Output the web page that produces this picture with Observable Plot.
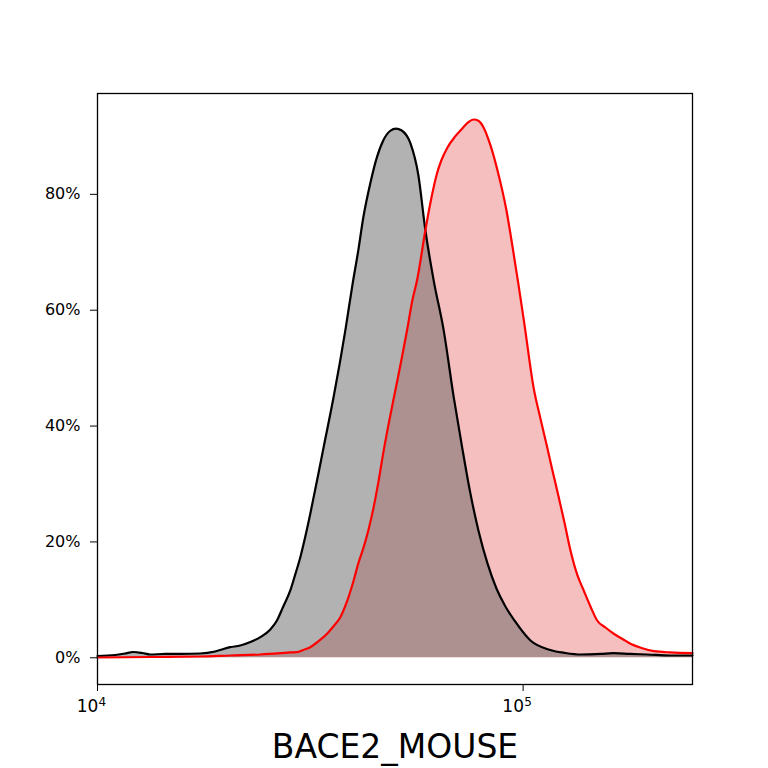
<!DOCTYPE html>
<html>
<head>
<meta charset="utf-8">
<script src="https://cdn.jsdelivr.net/npm/d3@7"></script>
<script src="https://cdn.jsdelivr.net/npm/@observablehq/plot@0.6"></script>
<style>
  body { margin: 0; background: #fff; }
  #chart svg { display: block; }
</style>
</head>
<body>
<div id="chart"></div>
<script>
// Control (black) histogram: fluorescence value and % of max
const controlX = [10000, 11000, 11600, 12130, 12740, 13300, 14430, 15650, 17440, 18900,
  20500, 21650, 22860, 24130, 25470, 26400, 27320, 28380, 29150, 29960,
  30780, 31620, 32200, 33080, 33990, 35870, 38220, 39700, 41000, 42130, 43750,
  45370, 46950, 48760, 50290, 51750, 54340, 56740, 58930, 61630, 65070,
  68690, 71880, 75180, 78520, 82460, 86560, 90870, 95410, 104040, 114700, 125700,
  136400, 151900, 163100, 178700, 195600, 221900, 250000];
const controlY = [0.31, 0.48, 0.74, 1.00, 0.83, 0.57, 0.66, 0.66, 0.74, 1.09,
  1.83, 2.12, 2.73, 3.56, 4.89, 6.44, 8.86, 11.62, 14.39, 17.37,
  20.95, 24.87, 27.74, 32.00, 36.37, 45.01, 56.53, 64.30, 70.35, 76.04, 81.92,
  86.46, 89.34, 90.98, 91.36, 91.07, 88.83, 83.30, 73.80, 65.16, 56.53,
  45.01, 36.37, 28.38, 21.99, 16.29, 11.97, 8.86, 6.44, 2.99, 1.43, 0.83,
  0.57, 0.66, 0.79, 0.66, 0.57, 0.40, 0.40];

// Stained (red) histogram
const stainX = [10000, 13300, 17440, 20500, 24130, 26890, 28380, 29430, 30450, 31620,
  33020, 34620, 35820, 37200, 38640, 39980, 41000, 42200, 43280, 44480,
  45690, 46950, 48490, 50100, 51750, 53370, 54930, 56340, 58930, 60530,
  62770, 64270, 66270, 69330, 72400, 74370, 76540, 78520, 80670, 83780,
  87030, 91360, 94380, 97500, 100710, 105900, 109800, 113860, 117200, 121200,
  125050, 129200, 134200, 138800, 143950, 149250, 156100, 163300, 171200, 178700,
  189700, 202800, 221900, 250000];
const stainY = [0.05, 0.14, 0.22, 0.40, 0.57, 0.79, 0.92, 0.97, 1.35, 1.83,
  2.82, 4.15, 5.41, 7.01, 9.90, 13.35, 16.29, 19.10, 21.99, 25.79,
  30.28, 35.46, 40.98, 46.17, 51.35, 56.53, 61.71, 65.16, 73.80, 78.46,
  83.65, 85.89, 87.97, 90.04, 91.60, 92.46, 92.92, 92.71, 91.60, 88.49,
  84.17, 77.25, 71.04, 64.47, 57.56, 46.51, 41.33, 36.37, 32.35, 27.74,
  23.37, 18.53, 14.21, 11.62, 8.86, 6.44, 5.23, 4.15, 3.25, 2.42,
  1.69, 1.14, 0.92, 0.79];

const xTicks = [10000, 100000];
const xTickBase = ["10", "10"];
const xTickExp = ["4", "5"];
const yTicks = [0, 20, 40, 60, 80];
const xLabel = "BACE2_MOUSE";

const control = controlX.map((x, i) => ({x, y: controlY[i]}));
const stain = stainX.map((x, i) => ({x, y: stainY[i]}));

const chart = Plot.plot({
  width: 768,
  height: 768,
  marginTop: 93,
  marginLeft: 97,
  marginRight: 76,
  marginBottom: 84,
  style: {fontFamily: "DejaVu Sans", fontSize: "16px", color: "black", background: "white"},
  x: {type: "log", domain: [10000, 250000]},
  y: {domain: [-4.61, 97.41]},
  marks: [
    Plot.areaY(stain, {x: "x", y: "y", fill: "rgb(246,191,191)", curve: "monotone-x"}),
    Plot.areaY(control, {x: "x", y: "y", fill: "rgb(94,94,94)", fillOpacity: 0.48, curve: "monotone-x"}),
    Plot.lineY(control, {x: "x", y: "y", stroke: "black", strokeWidth: 2.2, curve: "monotone-x"}),
    Plot.lineY(stain, {x: "x", y: "y", stroke: "red", strokeWidth: 2.2, curve: "monotone-x"}),
    Plot.axisX({ticks: xTicks, tickFormat: () => "", tickSize: 7, label: null}),
    Plot.text(xTicks, {x: d => d, text: (d, i) => xTickBase[i], frameAnchor: "bottom",
      dx: -10, dy: 27, fontSize: 17, fill: "black"}),
    Plot.text(xTicks, {x: d => d, text: (d, i) => xTickExp[i], frameAnchor: "bottom",
      dx: 1, dy: 21, fontSize: 12, fill: "black", textAnchor: "start"}),
    Plot.axisY({ticks: yTicks, tickFormat: d => d + "%", tickSize: 7, tickPadding: 10,
      fontSize: 16, label: null}),
    Plot.frame({stroke: "black", strokeWidth: 1.3}),
    Plot.text([xLabel], {text: d => d, frameAnchor: "bottom", dy: 73, fontSize: 33, fill: "black"})
  ]
});
document.getElementById("chart").appendChild(chart);
</script>
</body>
</html>
